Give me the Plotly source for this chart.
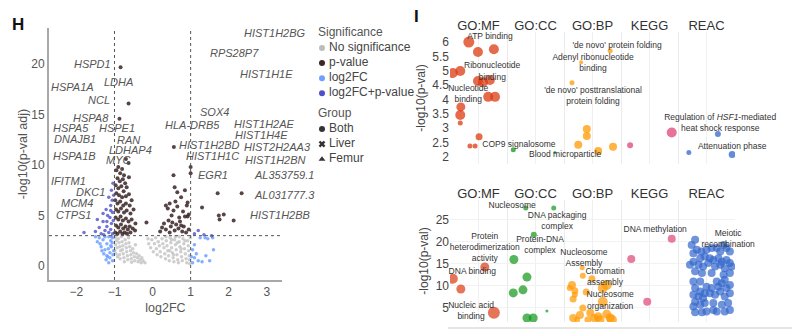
import plotly.graph_objects as go

# ---------------- Panel H : volcano data ----------------
ns_x = [-0.98,-0.95,-0.97,-0.93,-0.99,-0.96,-0.92,-0.9,-0.88,-0.86,-0.84,-0.87,-0.85,-0.82,-0.8,-0.78,-0.79,-0.77,-0.75,-0.74,
        -0.72,-0.7,-0.69,-0.68,-0.66,-0.65,-0.63,-0.62,-0.6,-0.58,-0.57,-0.56,-0.55,-0.52,-0.5,-0.48,-0.47,-0.45,-0.42,-0.4,
        -0.38,-0.35,-0.33,-0.3,-0.28,-0.25,-0.2,
        -0.12,-0.1,-0.05,-0.02,0.02,0.05,0.08,0.1,0.12,0.15,0.18,0.2,0.22,0.25,0.27,0.3,0.32,0.34,0.36,0.38,0.4,0.42,0.44,0.46,
        0.48,0.5,0.52,0.54,0.56,0.58,0.6,0.62,0.64,0.66,0.68,0.7,0.72,0.74,0.76,0.78,0.8,0.82,0.84,0.86,0.88,0.9,0.92,0.94,
        0.95,0.96,0.97,0.98,0.99,0.6,0.35,0.7,0.45,0.55,0.75,0.85,0.65,0.5]
ns_y = [2.8,2.5,2.1,1.8,1.5,1.2,0.9,2.7,2.3,1.9,1.5,1.1,0.7,2.9,2.4,2.0,1.6,1.2,0.8,0.4,
        2.6,2.2,1.8,1.4,1.0,0.6,2.8,2.3,1.9,1.5,1.1,0.7,0.35,1.7,1.3,0.9,0.5,2.1,1.2,0.8,
        0.4,1.0,0.6,0.3,0.8,0.5,0.3,
        2.7,2.2,1.8,2.6,1.4,2.2,2.8,1.7,1.1,2.4,2.0,1.4,0.9,2.7,2.2,1.8,1.2,0.7,2.5,2.0,1.5,1.0,0.5,2.8,
        2.3,1.8,1.3,0.8,0.4,2.6,2.1,1.6,1.1,0.6,0.3,2.4,1.9,1.4,0.9,0.5,2.7,2.2,1.7,1.2,0.7,0.3,2.5,2.0,
        1.5,1.0,0.6,0.2,2.8,2.9,2.9,2.9,1.5,1.1,1.7,2.5,2.3,2.6]

pv_x = [-0.84,-0.63,-0.87,-0.63,-0.7,-0.95,-0.9,-0.85,-0.8,-0.75,-0.92,-0.86,-0.78,-0.72,-0.97,-0.9,-0.82,-0.76,-0.68,-0.95,
        -0.88,-0.8,-0.7,-0.62,-0.98,-0.92,-0.85,-0.77,-0.7,-0.6,-0.96,-0.9,-0.83,-0.75,-0.68,-0.58,-0.5,-0.97,-0.9,-0.84,
        -0.78,-0.7,-0.63,-0.55,-0.96,-0.9,-0.83,-0.77,-0.71,-0.65,-0.6,-0.52,-0.46,-0.98,-0.92,-0.85,-0.79,-0.73,-0.67,-0.58,
        -0.16,-0.45,-0.55,-0.62,
        0.56,1.0,1.0,0.55,0.58,0.35,0.4,0.45,0.5,0.55,0.6,0.65,0.7,0.75,0.8,0.85,0.9,0.92,0.3,0.35,0.42,0.48,0.52,0.58,
        0.62,0.68,0.72,0.78,0.82,0.88,0.92,0.95,0.2,0.25,0.65,0.75,0.85,0.45,0.95,
        1.71,2.34,1.3,1.87,1.76,2.13,1.74]
pv_y = [19.7,16.1,14.6,10.2,10.6,9.5,9.8,9.2,9.6,9.0,8.7,8.4,8.6,8.2,8.0,7.7,7.9,7.4,7.8,7.2,
        7.0,6.8,6.9,7.1,6.5,6.2,6.4,6.0,6.2,6.0,5.6,5.4,5.7,5.3,5.5,5.2,5.6,4.8,4.6,4.9,
        4.5,4.7,4.4,4.6,4.0,3.8,4.1,3.7,3.9,3.6,3.9,3.7,3.5,3.3,3.2,3.4,3.2,3.3,3.2,3.3,
        4.3,4.2,6.5,8.8,
        11.8,9.8,9.2,9.0,7.8,6.0,5.7,6.2,5.0,5.5,6.4,5.9,4.8,6.8,5.4,4.9,6.0,6.3,4.2,3.6,4.5,3.9,4.3,3.5,
        4.1,3.7,4.4,3.4,3.9,3.3,4.9,3.6,3.4,3.8,7.3,4.0,7.5,3.3,5.1,
        7.2,7.2,5.8,5.1,4.6,4.5,5.0]

fc_x = [-1.05,-1.1,-1.15,-1.2,-1.08,-1.25,-1.12,-1.3,-1.18,-1.05,-1.35,-1.4,-1.22,-1.1,-1.02,-1.28,-1.15,-1.45,-1.06,-1.2,
        -1.33,-1.04,-1.5,-1.25,-1.12,-1.38,-1.08,-1.16,
        1.05,1.1,1.2,1.3,1.15,1.05,1.4,1.5,1.25,1.45,1.58,1.38,1.6,1.1,1.02]
fc_y = [2.8,2.5,2.9,2.2,1.9,1.6,1.3,2.6,0.9,0.5,1.9,2.8,0.6,2.0,1.5,1.2,0.3,2.4,2.3,1.0,
        1.5,1.1,2.9,2.9,0.8,2.2,2.9,1.7,
        0.3,0.8,0.5,0.4,1.2,1.6,1.0,0.5,2.8,2.7,2.8,2.8,1.6,2.1,0.9]

fcp_x = [-1.05,-1.1,-1.15,-1.2,-1.08,-1.25,-1.3,-1.12,-1.05,-1.18,-1.35,-1.4,-1.22,-1.1,-1.06,-1.15,-1.3,-1.02,-1.08,-1.45,
         -1.5,-1.03,-1.2,-1.1,-1.28,-1.04,-1.8,1.1,1.2,1.35,1.55]
fcp_y = [3.2,3.6,3.3,3.9,4.2,3.5,4.4,4.8,5.3,5.0,3.2,3.8,5.6,6.0,6.5,6.8,5.2,7.0,7.5,4.6,
         3.4,4.5,4.4,5.5,3.1,8.2,3.3,3.2,3.5,3.1,3.0]

# gene labels: x = left edge of label, y = label centre
gene_labels = ["HSPD1","HSPA1A","LDHA","NCL","HSPA8","HSPA5","HSPE1","DNAJB1","RAN","LDHAP4","HSPA1B","MYC",
               "IFITM1","DKC1","MCM4","CTPS1",
               "SOX4","HLA-DRB5","HIST1H2BD","HIST1H1C","EGR1",
               "HIST1H2BG","RPS28P7","HIST1H1E","HIST1H2AE","HIST1H4E","HIST2H2AA3","HIST1H2BN",
               "AL353759.1","AL031777.3","HIST1H2BB"]
gene_x = [-2.08,-2.70,-1.29,-1.71,-2.11,-2.63,-1.42,-2.61,-0.97,-1.18,-2.63,-1.24,
          -2.70,-2.03,-2.42,-2.55,
          1.21,0.29,0.66,0.84,1.18,
          2.37,1.47,2.26,2.1,2.13,2.37,2.39,
          2.63,2.63,2.53]
gene_y = [20.0,17.7,18.2,16.5,14.7,13.7,13.7,12.6,12.5,11.5,10.9,10.5,
          8.4,7.3,6.2,5.0,
          15.3,14.0,12.0,10.9,9.0,
          23.1,21.1,19.0,14.1,13.0,11.8,10.5,
          9.0,7.0,5.0]

vol_xticks = [-2, -1, 0, 1, 2, 3]
vol_yticks = [0, 5, 10, 15, 20]
fc_cut = [-1, 1]
p_cut = 3

# legend content
sig_names = ["No significance", "p-value", "log2FC", "log2FC+p-value"]
sig_colors = ["#bdbdbd", "#3d2626", "#6fa0ff", "#5050c8"]
grp_names = ["Both", "Liver", "Femur"]
grp_symbols = ["circle", "x", "triangle-up"]

# ---------------- Panel I data ----------------
sources = ["GO:MF", "GO:CC", "GO:BP", "KEGG", "REAC"]
src_colors = ["#dc3912", "#109618", "#ff9900", "#dd4477", "#3366cc"]

t_src = [0]*16 + [1]*2 + [2]*8 + [3]*2 + [4]*3
t_off = [0.33,0.49,0.77,0.05,0.18,0.49,0.58,0.70,0.67,0.79,0.19,0.18,0.18,0.51,0.35,0.44,
         0.11,0.84,
         0.81,0.30,0.14,0.40,0.40,0.25,0.60,0.86,
         0.16,0.89,
         0.19,0.70,0.95]
t_val = [6.0,5.65,5.75,4.92,4.99,4.64,4.6,4.68,4.09,4.09,3.74,3.46,3.18,2.7,2.38,2.38,
         2.25,2.15,
         5.7,5.3,4.58,2.97,2.73,2.42,2.2,2.35,
         2.4,2.85,
         2.15,2.8,2.08]
t_size = [11,10,10,10,10,10,10,10,10,10,9,10,5,7,5,5,
          5,3,
          5,4,5,8,8,8,8,8,
          6,10,
          5,6,7]
t_lab = ["ATP binding", "'de novo' protein folding", "Adenyl ribonucleotide<br>binding", "Ribonucleotide<br>binding",
         "Nucleotide<br>binding", "'de novo' posttranslational<br>protein folding",
         "Regulation of <i>HSF1</i>-mediated<br>heat shock response", "COP9 signalosome", "Blood microparticle",
         "Attenuation phase"]
t_lab_x = [0.70, 2.93, 2.51, 0.74, 0.32, 2.51, 4.74, 1.21, 2.02, 4.95]
t_lab_y = [6.17, 5.86, 5.27, 4.96, 4.16, 4.09, 3.15, 2.42, 2.07, 2.35]
t_yticks = [2, 2.5, 3, 3.5, 4, 4.5, 5, 5.5, 6]

b_mf_off = [0.05, 0.19, 0.61, 0.77]
b_mf_val = [11.6, 9.3, 14.3, 3.9]
b_mf_size = [10, 9, 9, 12]
b_cc_off = [0.33, 0.82, 0.47, 0.12, 0.35, 0.28, 0.11, 0.70, 0.35, 0.46]
b_cc_val = [27.7, 27.7, 21.6, 16.0, 12.0, 9.1, 8.4, 4.3, 2.7, 2.7]
b_cc_size = [5, 5, 6, 9, 9, 9, 9, 3, 9, 9]
b_bp_off = [0.32,0.33,0.49,0.75,0.14,0.19,0.39,0.68,0.16,0.33,0.68,0.16,0.28,0.46,0.63,0.84,0.75,0.23,0.53,0.10,
            0.19,0.42,0.60,0.81]
b_bp_val = [14.1,12.3,11.6,10.2,10.2,8.9,8.6,9.5,7.0,5.0,6.4,2.7,3.4,3.9,2.3,2.3,3.6,2.3,2.7,9.5,
            8.0,2.3,3.0,2.7]
b_bp_size = [5,6,7,10,8,7,7,10,7,7,10,8,8,8,9,10,9,6,8,6,6,7,9,9]
b_kegg_off = [0.18, 0.89, 0.46]
b_kegg_val = [16.1, 20.7, 6.4]
b_kegg_size = [8, 8, 8]
b_reac_off = [0.30,0.24,0.33,0.27,0.41,0.50,0.59,0.68,0.80,0.85,0.91,0.39,0.47,0.56,0.62,0.71,0.77,0.85,0.91,0.27,
              0.36,0.44,0.53,0.65,0.74,0.82,0.94,0.30,0.42,0.91,0.80,0.27,0.68,0.77,0.82,0.50,0.59,0.71,0.85,0.30,
              0.39,0.47,0.56,0.65,0.74,0.91,0.27,0.36,0.44,0.82,0.30,0.39,0.47,0.62,0.77,0.88,0.27,0.62,0.68,0.82,
              0.91,0.30,0.42,0.50,0.21,0.74,0.59,0.39,0.91]
b_reac_val = [20.5,19.3,18.2,17.4,17.8,18.2,18.6,18.6,19.3,18.6,17.8,16.3,16.7,16.3,15.9,16.3,15.5,15.9,15.2,15.5,
              14.8,14.4,15.2,14.4,14.8,14.0,14.4,13.3,12.9,12.9,12.5,11.0,11.0,10.6,11.4,9.8,9.5,9.8,9.5,9.5,
              8.7,8.3,8.3,8.0,8.7,8.3,8.0,7.6,7.2,7.6,6.4,5.7,6.1,6.1,5.7,6.1,5.3,4.5,4.2,4.2,
              4.5,4.0,4.0,4.2,14.8,17.8,12.9,11.0,10.2]
b_lab = ["Nucleosome", "DNA packaging<br>complex", "Protein<br>heterodimerization<br>activity", "Protein-DNA<br>complex",
         "DNA binding", "Nucleosome<br>Assembly", "Chromatin<br>assembly", "Nucleosome<br>organization",
         "Nucleic acid<br>binding", "DNA methylation", "Meiotic<br>recombination"]
b_lab_x = [1.09, 1.88, 0.61, 1.58, 0.39, 2.35, 2.72, 2.81, 0.37, 3.60, 4.88]
b_lab_y = [28.2, 24.7, 18.6, 19.3, 13.2, 16.3, 12.0, 6.6, 4.3, 22.7, 20.6]
b_yticks = [5, 10, 15, 20, 25]

FONT = "Liberation Sans, Arial, sans-serif"
fig = go.Figure()

# ---- volcano traces ----
fig.add_trace(go.Scatter(x=ns_x, y=ns_y, mode="markers", xaxis="x", yaxis="y",
                         marker=dict(size=3.5, color="#c6c6c6", opacity=0.85), showlegend=False, hoverinfo="skip"))
fig.add_trace(go.Scatter(x=fc_x, y=fc_y, mode="markers", xaxis="x", yaxis="y",
                         marker=dict(size=3.5, color=sig_colors[2], opacity=0.85), showlegend=False, hoverinfo="skip"))
fig.add_trace(go.Scatter(x=fcp_x, y=fcp_y, mode="markers", xaxis="x", yaxis="y",
                         marker=dict(size=3.5, color=sig_colors[3], opacity=0.8), showlegend=False, hoverinfo="skip"))
fig.add_trace(go.Scatter(x=pv_x, y=pv_y, mode="markers", xaxis="x", yaxis="y",
                         marker=dict(size=4, color="#3a2424", opacity=0.85), showlegend=False, hoverinfo="skip"))

# ---- manual legend (own hidden axis) ----
leg_rows = [0, 1, 2, 3, 4, 5.35, 6.35, 7.35, 8.35]
fig.add_trace(go.Scatter(x=[0, 0], y=[leg_rows[0], leg_rows[5]], mode="text",
                         text=["Significance", "Group"], textposition="middle right",
                         textfont=dict(family=FONT, size=12, color="#555555"),
                         xaxis="x4", yaxis="y4", cliponaxis=False, showlegend=False, hoverinfo="skip"))
fig.add_trace(go.Scatter(x=[4]*4, y=leg_rows[1:5], mode="markers",
                         marker=dict(size=6, color=sig_colors, symbol="circle"),
                         xaxis="x4", yaxis="y4", cliponaxis=False, showlegend=False, hoverinfo="skip"))
fig.add_trace(go.Scatter(x=[4]*3, y=leg_rows[6:9], mode="markers",
                         marker=dict(size=6, color="#333333", symbol=grp_symbols),
                         xaxis="x4", yaxis="y4", cliponaxis=False, showlegend=False, hoverinfo="skip"))
fig.add_trace(go.Scatter(x=[11]*7, y=leg_rows[1:5] + leg_rows[6:9], mode="text", text=sig_names + grp_names,
                         textposition="middle right",
                         textfont=dict(family=FONT, size=12, color="#444444"),
                         xaxis="x4", yaxis="y4", cliponaxis=False, showlegend=False, hoverinfo="skip"))

# ---- panel I top ----
for i, s in enumerate(sources):
    idx = [k for k in range(len(t_src)) if t_src[k] == i]
    fig.add_trace(go.Scatter(x=[i + t_off[k] for k in idx], y=[t_val[k] for k in idx], mode="markers",
                             xaxis="x2", yaxis="y2",
                             marker=dict(size=[t_size[k] for k in idx], color=src_colors[i], opacity=0.75,
                                         line=dict(width=0)),
                             showlegend=False, hoverinfo="skip"))
fig.add_trace(go.Scatter(x=t_lab_x, y=t_lab_y, mode="text", text=t_lab, xaxis="x2", yaxis="y2",
                         textfont=dict(family=FONT, size=8.5, color="#333333"), cliponaxis=False,
                         showlegend=False, hoverinfo="skip"))

# ---- panel I bottom ----
b_groups = [(b_mf_off, b_mf_val, b_mf_size), (b_cc_off, b_cc_val, b_cc_size), (b_bp_off, b_bp_val, b_bp_size),
            (b_kegg_off, b_kegg_val, b_kegg_size), (b_reac_off, b_reac_val, [8]*len(b_reac_off))]
for i, (o, v, sz) in enumerate(b_groups):
    fig.add_trace(go.Scatter(x=[i + a for a in o], y=v, mode="markers", xaxis="x3", yaxis="y3",
                             marker=dict(size=sz, color=src_colors[i], opacity=0.7, line=dict(width=0)),
                             showlegend=False, hoverinfo="skip"))
fig.add_trace(go.Scatter(x=b_lab_x, y=b_lab_y, mode="text", text=b_lab, xaxis="x3", yaxis="y3",
                         textfont=dict(family=FONT, size=8.5, color="#333333"), cliponaxis=False,
                         showlegend=False, hoverinfo="skip"))

tickfont = dict(family=FONT, size=12, color="#555555")
col_axis = dict(range=[0, 5], side="top", tickvals=[i + 0.5 for i in range(5)], ticktext=sources,
                tickfont=dict(family=FONT, size=13, color="#333333"), ticks="", showline=False,
                ticklabelstandoff=-2,
                showgrid=True, gridcolor="#f0f0f0", zeroline=False,
                minor=dict(tickvals=[1, 2, 3, 4], showgrid=True, gridcolor="#ebebeb"))

shapes = []
for c in fc_cut:
    shapes.append(dict(type="line", xref="x", yref="y domain", x0=c, x1=c, y0=0, y1=1,
                       line=dict(color="#555555", width=1, dash="dot")))
shapes.append(dict(type="line", xref="x domain", yref="y", x0=0, x1=1, y0=p_cut, y1=p_cut,
                   line=dict(color="#555555", width=1, dash="dot")))
shapes.append(dict(type="line", xref="paper", yref="paper", x0=0.56, x1=0.99, y0=0.021, y1=0.021,
                   line=dict(color="#dddddd", width=1.5)))

annotations = [
    dict(text="<b>H</b>", x=10 / 800, y=1 - 25 / 335, xref="paper", yref="paper", showarrow=False,
         xanchor="left", yanchor="middle", font=dict(family=FONT, size=17, color="#111111")),
    dict(text="<b>I</b>", x=412 / 800, y=1 - 16 / 335, xref="paper", yref="paper", showarrow=False,
         xanchor="left", yanchor="middle", font=dict(family=FONT, size=17, color="#111111")),
]
for g, gx, gy in zip(gene_labels, gene_x, gene_y):
    annotations.append(dict(text="<i>" + g + "</i>", x=gx, y=gy, xref="x", yref="y", showarrow=False,
                            xanchor="left", yanchor="middle", borderpad=0,
                            font=dict(family=FONT, size=11, color="#555555")))

fig.update_layout(
    width=800, height=335, margin=dict(l=0, r=0, t=0, b=0),
    paper_bgcolor="white", plot_bgcolor="white",
    font=dict(family=FONT, color="#444444"),
    xaxis=dict(domain=[0.06125, 0.3525], range=[-2.72, 3.4], tickvals=vol_xticks, tickfont=tickfont,
               showline=True, linecolor="#a8a8a8", linewidth=2, showgrid=False, zeroline=False, ticks="",
               title=dict(text="log2FC", font=dict(family=FONT, size=12.5, color="#555555"), standoff=5)),
    yaxis=dict(domain=[0.1642, 0.9164], range=[-1.4, 23.6], tickvals=vol_yticks, tickfont=tickfont,
               showline=True, linecolor="#a8a8a8", linewidth=2, showgrid=False, zeroline=False, ticks="",
               title=dict(text="-log10(p-val adj)", font=dict(family=FONT, size=12.5, color="#555555"), standoff=1)),
    xaxis2=dict(domain=[0.5625, 0.91875], anchor="y2", **col_axis),
    yaxis2=dict(domain=[0.5104, 0.9045], range=[1.75, 6.35], anchor="x2", tickvals=t_yticks,
                tickfont=dict(family=FONT, size=12, color="#444444"), ticks="", showgrid=False, zeroline=False,
                title=dict(text="-log10(p-val)", font=dict(family=FONT, size=12, color="#444444"), standoff=4)),
    xaxis3=dict(domain=[0.5625, 0.91875], anchor="y3", **col_axis),
    yaxis3=dict(domain=[0.0388, 0.403], range=[1.8, 29.5], anchor="x3", tickvals=b_yticks,
                tickfont=dict(family=FONT, size=12, color="#444444"), ticks="", showgrid=True,
                gridcolor="#f2f2f2", zeroline=False,
                title=dict(text="-log10(p-val)", font=dict(family=FONT, size=12, color="#444444"), standoff=4)),
    xaxis4=dict(domain=[0.3975, 0.5125], range=[0, 92], visible=False, anchor="y4"),
    yaxis4=dict(domain=[0.5, 0.92], range=[8.9, -0.4], visible=False, anchor="x4"),
    shapes=shapes,
    annotations=annotations,
)

fig.write_html("out.html")
